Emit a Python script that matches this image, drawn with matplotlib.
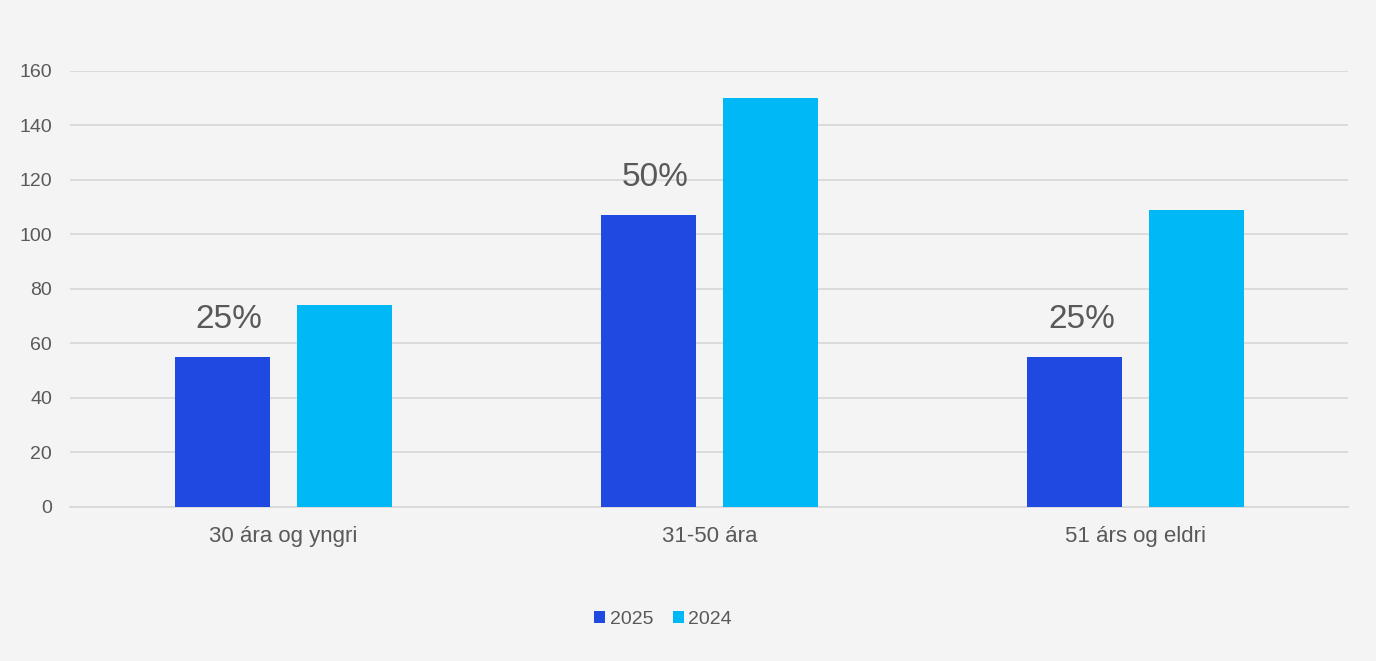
import numpy as np
import matplotlib.pyplot as plt

plt.rcParams['font.family'] = ['Liberation Sans', 'DejaVu Sans']

categories = ['30 ára og yngri', '31-50 ára', '51 árs og eldri']
values_2025 = [55, 107, 55]
values_2024 = [74, 150, 109]
pct_labels = ['25%', '50%', '25%']

bg = '#F4F4F4'
txt = '#595959'
c2025 = '#1F49E0'
c2024 = '#00B8F5'

fig = plt.figure(figsize=(13.76, 6.61), dpi=100, facecolor=bg)
ax = fig.add_axes([0.051, 0.233, 0.929, 0.660], facecolor=bg)

x = np.arange(len(categories))
w = 0.223
off = 0.143
b1 = ax.bar(x - off, values_2025, w, color=c2025, label='2025', zorder=3)
b2 = ax.bar(x + off, values_2024, w, color=c2024, label='2024', zorder=3)

# percentage labels above the 2025 bars
for xi, v, lab in zip(x - off, values_2025, pct_labels):
    ax.annotate(lab, (xi, v), xytext=(5, 27), textcoords='offset points',
                ha='center', va='center', fontsize=24, color=txt)

ax.set_xlim(-0.5, 2.5)
ax.set_ylim(0, 160)
ax.set_yticks(range(0, 161, 20))
ax.set_xticks(x)
ax.set_xticklabels(categories)
ax.grid(axis='y', color='#D9D9D9', linewidth=1.3, zorder=0)
for s in ['top', 'right', 'left']:
    ax.spines[s].set_visible(False)
ax.spines['bottom'].set_color('#D9D9D9')
ax.spines['bottom'].set_linewidth(1.3)
ax.tick_params(axis='y', length=0, pad=13, labelsize=14, labelcolor=txt)
ax.tick_params(axis='x', length=0, pad=14, labelsize=16, labelcolor=txt)

fig.legend(handles=[b1, b2], loc='center', bbox_to_anchor=(0.482, 0.063), ncol=2,
           frameon=False, fontsize=14, labelcolor=txt, handlelength=0.55,
           handleheight=0.55, handletextpad=0.25, columnspacing=1.0)

fig.savefig('out.png', dpi=100, facecolor=bg)
